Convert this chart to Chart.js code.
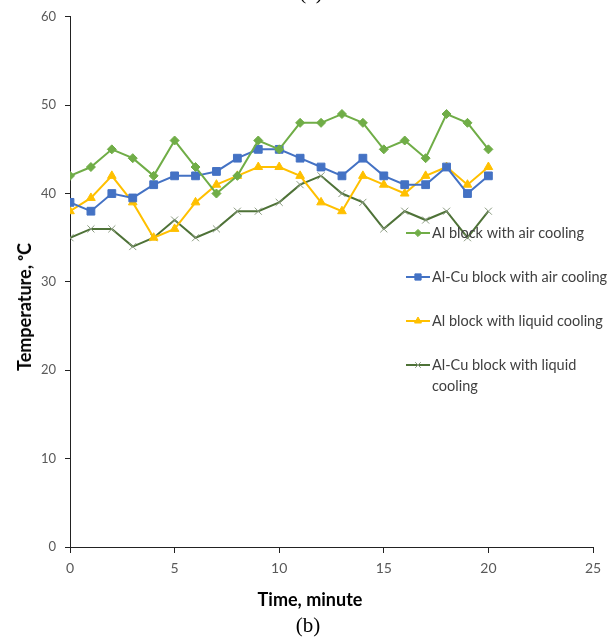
<!DOCTYPE html>
<html>
<head>
<meta charset="utf-8">
<script src="https://cdn.jsdelivr.net/npm/chart.js@4"></script>
<style>
  body { margin: 0; background: #fff; }
  #wrap { position: relative; width: 614px; height: 643px; overflow: hidden; }
  canvas { position: absolute; left: 0; top: 0; }
  .lbl { position: absolute; white-space: nowrap; color: #000; }
  #ytitle { left: 24px; top: 307px; font: bold 18px Lato, sans-serif; transform: translate(-50%, -50%) rotate(-90deg); }
  #xtitle { left: 310px; top: 599px; font: bold 18px Lato, sans-serif; transform: translate(-50%, -50%); }
  #sub { left: 308px; top: 625px; font: 21px "Liberation Serif", "DejaVu Serif", serif; transform: translate(-50%, -50%); }
  #subA { left: 311px; top: -8px; font: 21px "Liberation Serif", "DejaVu Serif", serif; transform: translate(-50%, -50%); }
</style>
</head>
<body>
<div id="wrap">
  <canvas id="c" width="614" height="643"></canvas>
  <div class="lbl" id="subA">(a)</div>
  <div class="lbl" id="ytitle">Temperature, ᵒC</div>
  <div class="lbl" id="xtitle">Time, minute</div>
  <div class="lbl" id="sub">(b)</div>
</div>
<script>
const minutes = [0, 1, 2, 3, 4, 5, 6, 7, 8, 9, 10, 11, 12, 13, 14, 15, 16, 17, 18, 19, 20];
const alAir = [42, 43, 45, 44, 42, 46, 43, 40, 42, 46, 45, 48, 48, 49, 48, 45, 46, 44, 49, 48, 45];
const alCuAir = [39, 38, 40, 39.5, 41, 42, 42, 42.5, 44, 45, 45, 44, 43, 42, 44, 42, 41, 41, 43, 40, 42];
const alLiquid = [38, 39.5, 42, 39, 35, 36, 39, 41, 42, 43, 43, 42, 39, 38, 42, 41, 40, 42, 43, 41, 43];
const alCuLiquid = [35, 36, 36, 34, 35, 37, 35, 36, 38, 38, 39, 41, 42, 40, 39, 36, 38, 37, 38, 35, 38];
const seriesNames = [
  'Al block with air cooling',
  'Al-Cu block with air cooling',
  'Al block with liquid cooling',
  'Al-Cu block with liquid cooling'
];
const xTicks = [0, 5, 10, 15, 20, 25];
const yTicks = [0, 10, 20, 30, 40, 50, 60];

function points(values) {
  return minutes.map((m, i) => ({ x: m, y: values[i] }));
}

function series(i, values, color, style, radius, markerColor) {
  return {
    label: seriesNames[i],
    data: points(values),
    borderColor: color,
    backgroundColor: markerColor || color,
    pointBorderColor: markerColor || color,
    borderWidth: 2,
    pointStyle: style,
    pointRadius: radius,
    pointBorderWidth: 1,
    tension: 0
  };
}

// legend drawn inside the plot, like the spreadsheet version
const insideLegend = {
  id: 'insideLegend',
  afterDatasetsDraw(chart) {
    const ctx = chart.ctx;
    const x0 = 406, y0 = 233, gap = 44, maxW = 182;
    ctx.save();
    ctx.font = '14.5px Lato, sans-serif';
    ctx.textBaseline = 'middle';
    chart.data.datasets.forEach((ds, i) => {
      const y = y0 + i * gap;
      ctx.strokeStyle = ds.borderColor;
      ctx.lineWidth = 2;
      ctx.beginPath();
      ctx.moveTo(x0, y);
      ctx.lineTo(x0 + 24, y);
      ctx.stroke();
      ctx.fillStyle = ds.pointBorderColor;
      ctx.strokeStyle = ds.pointBorderColor;
      ctx.lineWidth = 1;
      Chart.helpers.drawPoint(ctx, {
        pointStyle: ds.pointStyle,
        radius: ds.pointRadius * 0.8,
        borderWidth: 1
      }, x0 + 12, y);
      // simple word wrap
      const words = ds.label.split(' ');
      const lines = [];
      let line = '';
      words.forEach(w => {
        const test = line ? line + ' ' + w : w;
        if (ctx.measureText(test).width > maxW && line) {
          lines.push(line);
          line = w;
        } else {
          line = test;
        }
      });
      lines.push(line);
      ctx.fillStyle = '#404040';
      lines.forEach((l, k) => ctx.fillText(l, x0 + 26, y + k * 21));
    });
    ctx.restore();
  }
};

new Chart(document.getElementById('c'), {
  type: 'line',
  data: {
    datasets: [
      series(0, alAir, '#70AD47', 'rectRot', 4.5),
      series(1, alCuAir, '#4472C4', 'rect', 5.5),
      series(2, alLiquid, '#FFC000', 'triangle', 5),
      series(3, alCuLiquid, '#4E7237', 'crossRot', 5, '#8A9A80')
    ]
  },
  options: {
    responsive: false,
    animation: false,
    devicePixelRatio: 1,
    layout: { padding: { top: 16, right: 21, left: 0, bottom: 0 } },
    plugins: {
      legend: { display: false },
      tooltip: { enabled: false }
    },
    scales: {
      x: {
        type: 'linear',
        min: 0,
        max: 25,
        afterBuildTicks: s => { s.ticks = xTicks.map(v => ({ value: v })); },
        afterFit: s => { s.height = 96; },
        ticks: { color: '#595959', font: { family: 'Lato', size: 14 }, padding: 7, maxRotation: 0 },
        grid: { drawOnChartArea: false, drawTicks: true, tickLength: 6, color: '#222' },
        border: { color: '#222', width: 1 }
      },
      y: {
        min: 0,
        max: 60,
        afterBuildTicks: s => { s.ticks = yTicks.map(v => ({ value: v })); },
        afterFit: s => { s.width = 70; },
        ticks: { color: '#595959', font: { family: 'Lato', size: 13 }, padding: 9 },
        grid: { drawOnChartArea: false, drawTicks: true, tickLength: 5, color: '#222' },
        border: { color: '#222', width: 1 }
      }
    }
  },
  plugins: [insideLegend]
});
</script>
</body>
</html>
